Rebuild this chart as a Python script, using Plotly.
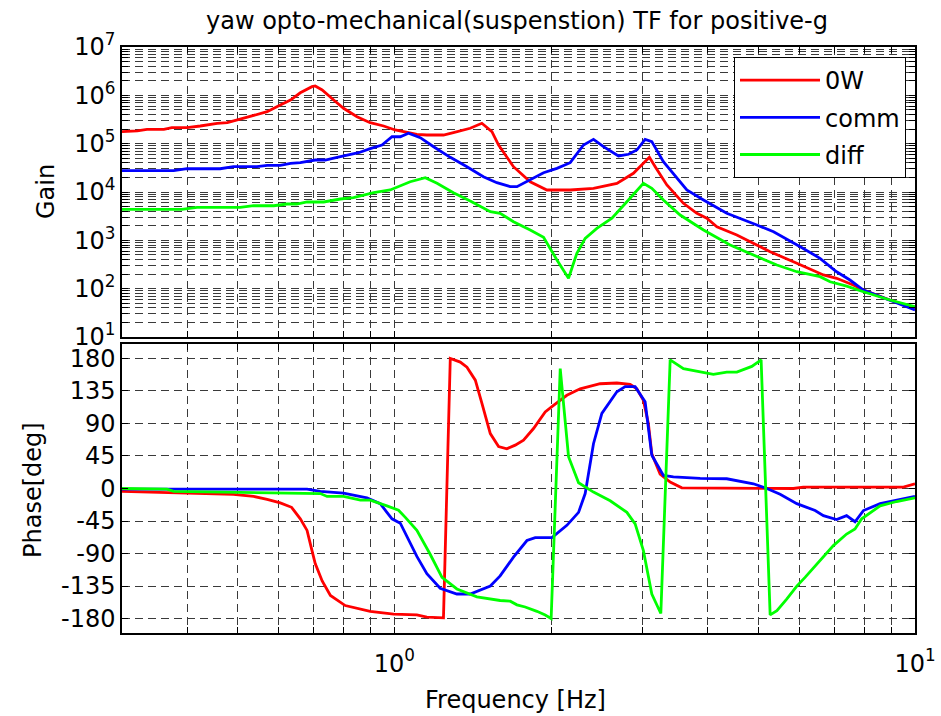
import math
import plotly.graph_objects as go

# ---------------- data ----------------
series_names = ["0W", "comm", "diff"]
series_colors = ["#ff0000", "#0000ff", "#00ff00"]

f_gain_0w = [0.3, 0.321, 0.335, 0.361, 0.374, 0.4, 0.424, 0.457, 0.478, 0.529, 0.57, 0.604, 0.632, 0.66,
             0.695, 0.705, 0.727, 0.765, 0.799, 0.848, 0.899, 0.954, 1.004, 1.065, 1.105, 1.155, 1.243,
             1.299, 1.399, 1.473, 1.54, 1.586, 1.694, 1.824, 1.964, 2.177, 2.413, 2.676, 2.879, 3.009,
             3.09, 3.17, 3.338, 3.592, 3.811, 3.983, 4.164, 4.548, 4.753, 5.27, 5.93, 6.67, 7.07, 7.61,
             7.96, 8.95, 10.0]
gain_0w = [1.77e5, 1.83e5, 1.98e5, 1.98e5, 2.14e5, 2.14e5, 2.32e5, 2.64e5, 2.72e5, 3.61e5, 4.58e5, 6.31e5,
           8.0e5, 1.13e6, 1.51e6, 1.56e6, 1.29e6, 8.0e5, 5.39e5, 3.61e5, 2.72e5, 2.32e5, 1.92e5, 1.69e5,
           1.56e5, 1.51e5, 1.51e5, 1.69e5, 2.08e5, 2.64e5, 1.77e5, 9.38e4, 3.34e4, 1.63e4, 1.10e4, 1.10e4,
           1.19e4, 1.51e4, 2.44e4, 3.92e4, 5.22e4, 3.34e4, 1.40e4, 5.83e3, 3.62e3, 2.86e3, 1.91e3, 1.29e3,
           1.02e3, 582, 335, 192, 164, 119, 93.8, 58.2, 39.2]

f_gain_comm = [0.3, 0.377, 0.4, 0.463, 0.491, 0.545, 0.57, 0.604, 0.632, 0.66, 0.705, 0.737, 0.788, 0.854,
               0.899, 0.947, 0.99, 1.027, 1.065, 1.122, 1.19, 1.281, 1.379, 1.483, 1.574, 1.67, 1.72,
               1.824, 1.935, 2.053, 2.177, 2.309, 2.413, 2.522, 2.695, 2.818, 2.923, 3.032, 3.123, 3.287,
               3.646, 3.925, 4.35, 4.97, 5.35, 6.02, 6.57, 7.07, 7.5, 7.96, 8.95, 10.0]
gain_comm = [2.76e4, 2.76e4, 3.03e4, 3.03e4, 3.34e4, 3.34e4, 3.57e4, 3.57e4, 3.92e4, 4.04e4, 4.59e4, 4.59e4,
             5.37e4, 6.5e4, 7.87e4, 9.38e4, 1.39e5, 1.39e5, 1.64e5, 1.33e5, 8.65e4, 5.22e4, 3.34e4, 2.07e4,
             1.56e4, 1.29e4, 1.29e4, 1.77e4, 2.51e4, 3.09e4, 4.04e4, 9.38e4, 1.23e5, 8.65e4, 5.56e4, 6.03e4,
             7.39e4, 1.23e5, 1.10e5, 4.24e4, 1.10e4, 6.83e3, 3.62e3, 2.07e3, 1.51e3, 738, 425, 224, 151,
             93.8, 58.2, 36.1]

f_gain_diff = [0.3, 0.391, 0.418, 0.506, 0.537, 0.587, 0.622, 0.65, 0.68, 0.732, 0.788, 0.835, 0.913, 0.982,
               1.073, 1.147, 1.208, 1.299, 1.399, 1.529, 1.597, 1.694, 1.824, 1.935, 2.053, 2.161, 2.242,
               2.326, 2.449, 2.618, 2.797, 3.009, 3.123, 3.287, 3.54, 3.925, 4.415, 4.894, 5.43, 5.93,
               6.57, 6.87, 7.39, 7.96, 8.95, 10.0]
gain_diff = [4.38e3, 4.38e3, 4.82e3, 4.82e3, 5.2e3, 5.2e3, 5.64e3, 5.64e3, 6.21e3, 6.21e3, 7.16e3, 7.62e3,
             9.67e3, 1.1e4, 1.63e4, 1.98e4, 1.51e4, 9.67e3, 6.5e3, 3.91e3, 3.62e3, 2.43e3, 1.64e3, 1.15e3,
             392, 164, 539, 1.1e3, 1.77e3, 2.86e3, 6.3e3, 1.51e4, 1.19e4, 6.83e3, 3.34e3, 1.64e3, 800, 497,
             308, 224, 177, 139, 113, 86.5, 58.2, 42.3]

f_phase_0w = [0.3, 0.424, 0.491, 0.537, 0.57, 0.604, 0.635, 0.66, 0.68, 0.695, 0.705, 0.727, 0.754, 0.805,
              0.899, 0.997, 1.105, 1.155, 1.243, 1.281, 1.339, 1.379, 1.431, 1.473, 1.529, 1.586, 1.645,
              1.707, 1.771, 1.851, 1.949, 2.022, 2.145, 2.275, 2.485, 2.676, 2.838, 2.923, 3.009, 3.076,
              3.123, 3.24, 3.387, 3.566, 5.84, 6.1, 9.5, 10.0]
phase_0w = [-4, -7, -8, -11, -15, -20, -26, -42, -58, -86, -104, -128, -148, -162, -170, -174, -175, -178,
            -179, 180, 175, 168, 150, 118, 76, 58, 55, 60, 67, 83, 106, 115, 129, 138, 145, 146, 144, 138,
            122, 90, 48, 20, 9, 1, 0, 2, 2, 6.5]

f_phase_comm = [0.3, 0.68, 0.721, 0.799, 0.886, 0.94, 0.968, 0.99, 1.027, 1.065, 1.105, 1.155, 1.225, 1.319,
                1.399, 1.529, 1.597, 1.694, 1.798, 1.865, 2.008, 2.145, 2.259, 2.326, 2.413, 2.504, 2.676,
                2.776, 2.901, 3.032, 3.123, 3.287, 3.436, 3.867, 4.35, 4.894, 5.193, 5.508, 5.93, 6.43,
                6.67, 7.07, 7.39, 7.67, 7.96, 8.57, 9.22, 10.0]
phase_comm = [-1, -1, -4, -6.5, -13, -21, -33, -42, -48, -72, -94, -118, -138, -146, -146, -135, -121, -95,
              -72, -68, -68, -51, -33, -7, 62, 104, 134, 141, 141, 120, 46, 18, 16, 14, 13.5, 6.5, 0, -8,
              -21, -30.5, -37.5, -43, -37.5, -46, -30.5, -21, -16, -11]

f_phase_diff = [0.3, 0.366, 0.377, 0.641, 0.721, 0.743, 0.799, 0.861, 0.899, 0.968, 1.019, 1.05, 1.105,
                1.172, 1.235, 1.319, 1.441, 1.597, 1.67, 1.72, 1.784, 1.879, 1.949, 2.001, 2.083, 2.161,
                2.259, 2.413, 2.598, 2.797, 2.901, 3.009, 3.123, 3.25, 3.387, 3.592, 3.867, 4.1, 4.35,
                4.548, 4.86, 5.064, 5.27, 5.43, 5.67, 5.93, 6.15, 6.48, 6.97, 7.39, 7.67, 7.9, 8.57,
                9.22, 10.0]
phase_diff = [0, -1, -4, -6, -7, -11, -11, -16, -16, -24, -30, -40, -58, -91, -123, -139, -150, -155, -156,
              -161, -164, -170, -175, -180, 166, 44, 8, -5, -17, -33, -49, -86, -146, -173, 178, 166, 161,
              158, 161, 161, 169, 178, -175, -169, -153, -135, -123, -104, -79, -63, -56, -42, -24, -18, -13]

x_grid_vals = [0.4, 0.5, 0.6, 0.7, 0.8, 0.9, 1, 2, 3, 4, 5, 6, 7, 8, 9, 10]
x_tick_labels = {1: "10<sup>0</sup>", 10: "10<sup>1</sup>"}
phase_ticks = [-180, -135, -90, -45, 0, 45, 90, 135, 180]
gain_decades = [1, 2, 3, 4, 5, 6, 7]

title_text = "yaw opto-mechanical(suspenstion) TF for positive-g"
gain_label = "Gain"
phase_label = "Phase[deg]"
freq_label = "Frequency [Hz]"

# ---------------- figure ----------------
FONT = "DejaVu Sans"
GRIDC = "#3a3a3a"
DASH = "8px,5px"

fig = go.Figure()
gain_f = [f_gain_0w, f_gain_comm, f_gain_diff]
gain_v = [gain_0w, gain_comm, gain_diff]
phase_f = [f_phase_0w, f_phase_comm, f_phase_diff]
phase_v = [phase_0w, phase_comm, phase_diff]

for i, name in enumerate(series_names):
    fig.add_trace(go.Scatter(x=gain_f[i], y=gain_v[i], mode="lines", name=name,
                             line=dict(color=series_colors[i], width=2.8),
                             xaxis="x", yaxis="y", legendgroup=name))
for i, name in enumerate(series_names):
    fig.add_trace(go.Scatter(x=phase_f[i], y=phase_v[i], mode="lines", name=name,
                             line=dict(color=series_colors[i], width=2.8), showlegend=False,
                             xaxis="x2", yaxis="y2", legendgroup=name))

gain_tickvals = []
gain_ticktext = []
for d in gain_decades:
    if d < 7:
        for k in range(1, 10):
            gain_tickvals.append(k * 10 ** d)
            gain_ticktext.append(f"10<sup>{d}</sup>" if k == 1 else "")
    else:
        gain_tickvals.append(10 ** d)
        gain_ticktext.append(f"10<sup>{d}</sup>")

x_ticktext = [x_tick_labels.get(v, "") for v in x_grid_vals]

common_axis = dict(showgrid=True, gridcolor=GRIDC, gridwidth=1, griddash=DASH, zeroline=False,
                   showline=True, linecolor="black", linewidth=1.5, mirror="allticks",
                   ticks="inside", ticklen=6, tickcolor="black", tickwidth=1,
                   tickfont=dict(family=FONT, size=24, color="black"), tickmode="array",
                   ticklabeloverflow="allow")

W, H = 941, 716
PL, PR, PT, PB = 122, 915, 47, 633          # plot area in window pixels
L, T = PL, PT
R, B = W - PR, H - PB
plot_w = PR - PL
plot_h = PB - PT
top_dom = [(PB - 337) / plot_h, 1.0]
bot_dom = [0.0, (PB - 344) / plot_h]


def px(xw):
    return (xw - PL) / plot_w


def py(yw):
    return (PB - yw) / plot_h


fig.update_layout(
    width=W, height=H,
    margin=dict(l=L, r=R, t=T, b=B, autoexpand=False),
    paper_bgcolor="white", plot_bgcolor="white",
    font=dict(family=FONT, size=24, color="black"),
    xaxis=dict(common_axis, type="log", range=[math.log10(0.3), 1], domain=[0, 1], anchor="y",
               tickvals=x_grid_vals, ticktext=["" for _ in x_grid_vals], showticklabels=False),
    yaxis=dict(common_axis, type="log", range=[1, 7], domain=top_dom, anchor="x",
               tickvals=gain_tickvals, ticktext=gain_ticktext),
    xaxis2=dict(common_axis, type="log", range=[math.log10(0.3), 1], domain=[0, 1], anchor="y2",
                tickvals=x_grid_vals, ticktext=x_ticktext, matches="x", ticklabelstandoff=8),
    yaxis2=dict(common_axis, range=[-200, 200], domain=bot_dom, anchor="x2",
                tickvals=phase_ticks, ticktext=[str(v) for v in phase_ticks]),
    legend=dict(x=px(906), y=py(57), xanchor="right", yanchor="top",
                bgcolor="white", bordercolor="black", borderwidth=1,
                font=dict(family=FONT, size=24, color="black"),
                itemwidth=80, tracegroupgap=3),
    showlegend=True,
)

fig.add_annotation(text=title_text, x=px(517), y=py(21), xref="paper", yref="paper",
                   showarrow=False, font=dict(family=FONT, size=24, color="black"),
                   xanchor="center", yanchor="middle")
fig.add_annotation(text=gain_label, x=px(46), y=py(192), xref="paper", yref="paper",
                   showarrow=False, textangle=-90, font=dict(family=FONT, size=24, color="black"),
                   xanchor="center", yanchor="middle")
fig.add_annotation(text=phase_label, x=px(33), y=py(490), xref="paper", yref="paper",
                   showarrow=False, textangle=-90, font=dict(family=FONT, size=24, color="black"),
                   xanchor="center", yanchor="middle")
fig.add_annotation(text=freq_label, x=px(515), y=py(700), xref="paper", yref="paper",
                   showarrow=False, font=dict(family=FONT, size=24, color="black"),
                   xanchor="center", yanchor="middle")

# remove the default 8px page margin so the 941x716 figure fills the window exactly
fig.write_html("out.html", config={"displayModeBar": False},
               post_script="document.body.style.margin='0';")
